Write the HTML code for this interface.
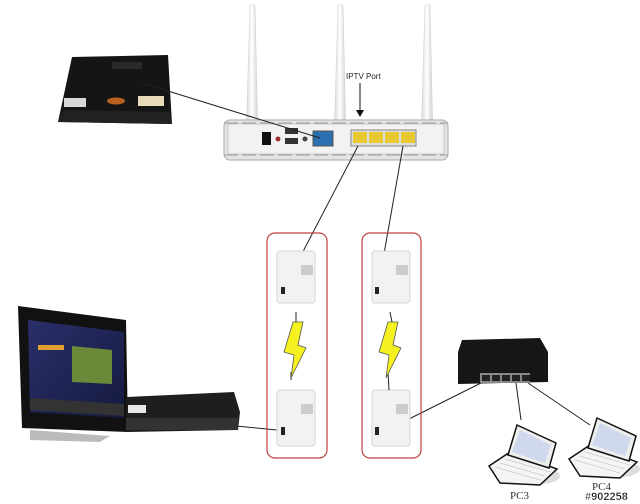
<!DOCTYPE html>
<html><head><meta charset="utf-8"><style>
html,body{margin:0;padding:0;background:#fff;width:640px;height:504px;overflow:hidden}
svg{display:block}
</style></head><body>
<svg width="640" height="504" viewBox="0 0 640 504" xmlns="http://www.w3.org/2000/svg" font-family="Liberation Sans, Noto Sans CJK TC, sans-serif">
<defs>
<linearGradient id="ant" x1="0" x2="1"><stop offset="0" stop-color="#d8d8d8"/><stop offset="0.5" stop-color="#fff"/><stop offset="1" stop-color="#cfcfcf"/></linearGradient>
<linearGradient id="scr" x1="0" y1="0" x2="1" y2="1"><stop offset="0" stop-color="#2a2f6a"/><stop offset="1" stop-color="#151a40"/></linearGradient>
</defs>
<!-- modem -->
<polygon points="72,57 168,55 172,124 58,122" fill="#151515"/>
<polygon points="64,110 170,112 172,124 58,122" fill="#222"/>
<rect x="64" y="98" width="22" height="9" fill="#d8d8d8"/>
<ellipse cx="116" cy="101" rx="9" ry="3.5" fill="#b8601c"/>
<rect x="138" y="96" width="26" height="10" fill="#e8dcb8"/>
<rect x="112" y="62" width="30" height="7" fill="#2a2a2a"/>
<!-- router antennas -->
<polygon points="250,5 255,5 258,140 246,140" fill="url(#ant)" stroke="#ccc" stroke-width="0.5"/>
<polygon points="338,5 343,5 346,140 334,140" fill="url(#ant)" stroke="#ccc" stroke-width="0.5"/>
<polygon points="425,5 430,5 433,140 421,140" fill="url(#ant)" stroke="#ccc" stroke-width="0.5"/>
<!-- router body -->
<rect x="224" y="120" width="224" height="40" rx="6" fill="#e4e4e4" stroke="#aaa"/>
<rect x="228" y="124" width="216" height="30" fill="#f2f2f2" stroke="#c8c8c8"/>
<line x1="224" y1="123" x2="448" y2="123" stroke="#999" stroke-dasharray="14,4"/>
<line x1="224" y1="155" x2="448" y2="155" stroke="#999" stroke-dasharray="14,4"/>
<rect x="262" y="132" width="9" height="13" fill="#111"/>
<circle cx="278" cy="139" r="2.5" fill="#a03030"/>
<rect x="285" y="128" width="13" height="6" fill="#333"/>
<rect x="285" y="138" width="13" height="6" fill="#333"/>
<circle cx="305" cy="139" r="2.5" fill="#444"/>
<rect x="313" y="131" width="20" height="15" fill="#2a70b0" stroke="#555"/>
<rect x="351" y="130" width="65" height="16" fill="#ddd" stroke="#888"/>
<rect x="353" y="132" width="14" height="11" fill="#e8c832"/>
<rect x="369" y="132" width="14" height="11" fill="#e8c832"/>
<rect x="385" y="132" width="14" height="11" fill="#e8c832"/>
<rect x="401" y="132" width="14" height="11" fill="#e8c832"/>
<text x="346" y="79" font-size="8" fill="#222">IPTV Port</text>
<line x1="360" y1="83" x2="360" y2="112" stroke="#111" stroke-width="1"/>
<polygon points="356,110 364,110 360,117" fill="#111"/>
<!-- cables -->
<g stroke="#222" stroke-width="1" fill="none">
<line x1="142" y1="83" x2="320" y2="138"/>
<line x1="358" y1="146" x2="284" y2="288"/>
<line x1="403" y1="146" x2="378" y2="288"/>
<line x1="236" y1="426" x2="277" y2="430"/>
<line x1="481" y1="383" x2="383" y2="432"/>
<line x1="516" y1="383" x2="521" y2="420"/>
<line x1="528" y1="383" x2="590" y2="425"/>
</g>
<!-- red boxes -->
<rect x="267" y="233" width="60" height="225" rx="8" fill="none" stroke="#c04040" stroke-width="1.2"/>
<rect x="362" y="233" width="59" height="225" rx="8" fill="none" stroke="#c04040" stroke-width="1.2"/>
<!-- adapters -->
<g fill="#f2f2f2" stroke="#d4d4d4">
<rect x="277" y="251" width="38" height="52" rx="3"/>
<rect x="277" y="390" width="38" height="56" rx="3"/>
<rect x="372" y="251" width="38" height="52" rx="3"/>
<rect x="372" y="390" width="38" height="56" rx="3"/>
</g>
<g fill="#222">
<rect x="281" y="287" width="4" height="7"/><rect x="281" y="427" width="4" height="8"/>
<rect x="375" y="287" width="4" height="7"/><rect x="375" y="427" width="4" height="8"/>
</g>
<g fill="#ccc"><rect x="301" y="265" width="12" height="10"/><rect x="301" y="404" width="12" height="10"/><rect x="396" y="265" width="12" height="10"/><rect x="396" y="404" width="12" height="10"/></g>
<g stroke="#222" stroke-width="1"><line x1="296" y1="312" x2="296" y2="322"/><line x1="291" y1="372" x2="291" y2="380"/><line x1="390" y1="312" x2="392" y2="322"/><line x1="388" y1="372" x2="389" y2="390"/></g>
<polygon points="293,322 303,322 298,345 306,348 291,378 294,355 284,352" fill="#f5f020" stroke="#555" stroke-width="0.8"/>
<polygon points="388,322 398,322 393,345 401,348 386,378 389,355 379,352" fill="#f5f020" stroke="#555" stroke-width="0.8"/>
<!-- TV -->
<polygon points="18,306 126,320 128,432 22,428" fill="#111"/>
<polygon points="28,320 124,332 124,418 30,412" fill="url(#scr)"/>
<rect x="38" y="345" width="26" height="5" fill="#e0a030"/>
<polygon points="72,346 112,350 112,384 72,382" fill="#6a8a3a"/>
<polygon points="30,398 124,404 124,416 30,410" fill="#333"/>
<polygon points="30,430 110,436 100,442 30,440" fill="#bbb"/>
<!-- STB -->
<polygon points="126,397 234,392 240,412 238,430 126,432" fill="#1e1e1e"/>
<rect x="126" y="418" width="112" height="12" fill="#333"/>
<rect x="128" y="405" width="18" height="8" fill="#e8e8e8"/>
<!-- switch -->
<polygon points="462,340 540,338 548,352 548,382 458,384 458,352" fill="#161616"/>
<rect x="480" y="373" width="50" height="10" fill="#888"/>
<g fill="#222"><rect x="482" y="375" width="8" height="6"/><rect x="492" y="375" width="8" height="6"/><rect x="502" y="375" width="8" height="6"/><rect x="512" y="375" width="8" height="6"/><rect x="522" y="375" width="8" height="6"/></g>
<!-- laptops -->
<g id="lap">
<ellipse cx="540" cy="476" rx="20" ry="8" fill="#ddd"/>
<polygon points="489,466 510,452 557,469 540,485 500,483" fill="#f4f4f4" stroke="#111" stroke-width="1.5"/>
<g stroke="#bbb" stroke-width="0.6"><line x1="500" y1="463" x2="545" y2="476"/><line x1="505" y1="459" x2="550" y2="472"/><line x1="495" y1="467" x2="540" y2="480"/></g>
<polygon points="517,425 556,443 549,468 508,455" fill="#eee" stroke="#111" stroke-width="1.5"/>
<polygon points="520,430 551,445 545,463 512,452" fill="#cfd8ec"/>
</g>
<use href="#lap" transform="translate(80,-7)"/>
<text x="510" y="499" font-family="Liberation Serif, serif" font-size="11" fill="#333">PC3</text>
<text x="592" y="490" font-family="Liberation Serif, serif" font-size="11" fill="#333">PC4</text>
<text x="585" y="500" font-size="11" font-weight="bold" fill="#111" stroke="#fff" stroke-width="0.3">#902258</text>
</svg>
</body></html>
